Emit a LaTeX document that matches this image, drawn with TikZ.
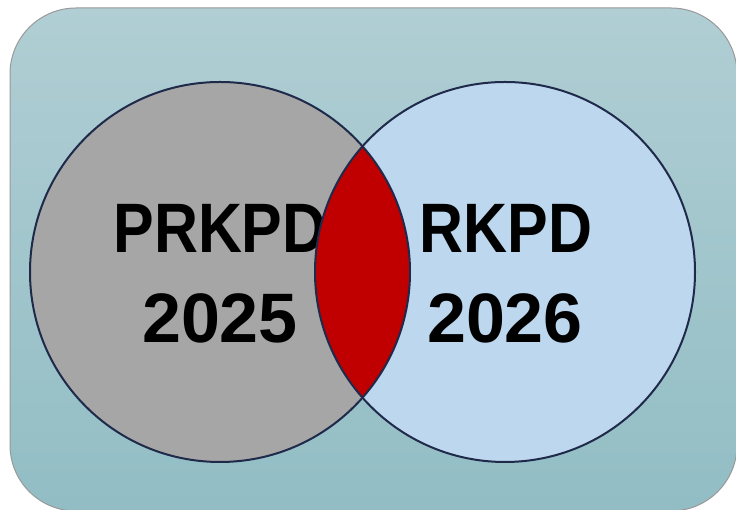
\documentclass[tikz,border=0pt]{standalone}
\usepackage{fontspec}
\setmainfont{Liberation Sans}
\newfontfamily\namefont[FakeStretch=0.87]{Liberation Sans}
\usepackage{tikz}
\definecolor{paneltop}{HTML}{B0CED4}
\definecolor{panelbot}{HTML}{92BDC4}
\definecolor{oldyear}{HTML}{A6A6A6}
\definecolor{newyear}{HTML}{BDD7EE}
\definecolor{overlap}{HTML}{C00000}
\definecolor{rim}{HTML}{1F2A4B}

\begin{document}
\begin{tikzpicture}[
  x=1pt, y=1pt,
  panel/.style={draw=gray!80, line width=1pt, rounded corners=66pt,
    top color=paneltop, bottom color=panelbot},
  ring/.style={draw=rim, line width=2pt},
  yearlabel/.style={anchor=base, inner sep=0pt, text=black,
    font=\fontsize{70}{84}\selectfont\bfseries}
]
\useasboundingbox (0,0) rectangle (736,510);

% Background panel
\path[panel] (10,-1) rectangle (737,502);

% Circle centres
\coordinate (prev) at (220,238);
\coordinate (next) at (505,238);

% Circles
\fill[oldyear] (prev) circle (190);
\fill[newyear] (next) circle (190);

% Labels
\node[yearlabel] (prevname) at (220,257) {\namefont PRKPD};
\node[yearlabel] (prevyear) at (220,167) {2025};
\node[yearlabel] (nextname) at (506,257) {\namefont RKPD};
\node[yearlabel] (nextyear) at (505,167) {2026};

% Overlap
\begin{scope}
  \clip (prev) circle (190);
  \fill[overlap] (next) circle (190);
\end{scope}

% Outlines
\draw[ring] (prev) circle (190);
\draw[ring] (next) circle (190);

\end{tikzpicture}
\end{document}
